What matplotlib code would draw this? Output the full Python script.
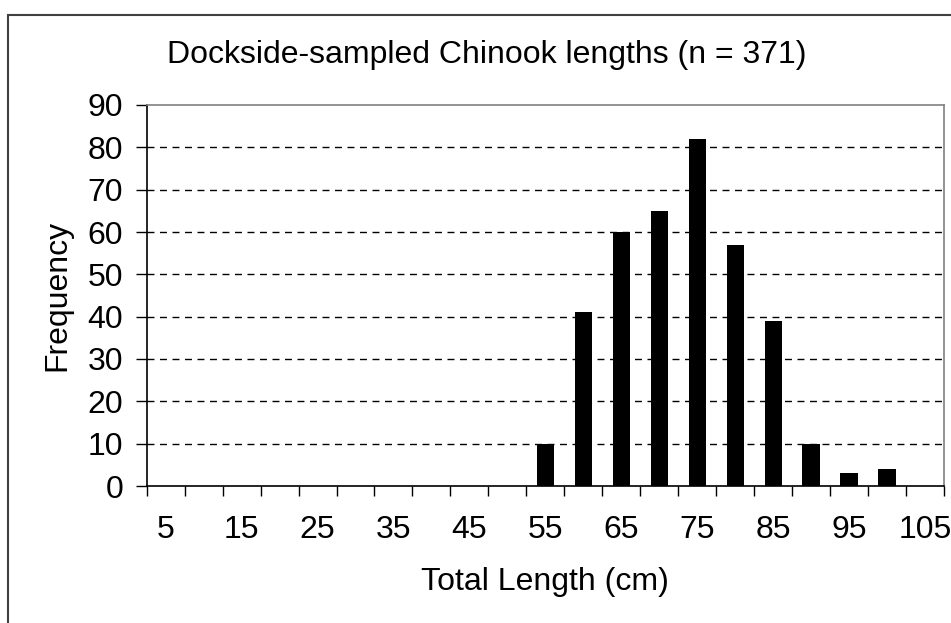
"""
Histogram of dockside-sampled Chinook lengths.
"""
import matplotlib
matplotlib.use('Agg')
import matplotlib.pyplot as plt
from matplotlib.patches import Rectangle

plt.rcParams['font.family'] = ['Liberation Sans', 'DejaVu Sans']

# Length classes (cm) and counts per class
lengths = [5, 10, 15, 20, 25, 30, 35, 40, 45, 50, 55,
           60, 65, 70, 75, 80, 85, 90, 95, 100, 105]
counts = [0, 0, 0, 0, 0, 0, 0, 0, 0, 0, 10,
          41, 60, 65, 82, 57, 39, 10, 3, 4, 0]
label_every = 2
y_ticks = [0, 10, 20, 30, 40, 50, 60, 70, 80, 90]
fs = 23

fig = plt.figure(figsize=(9.51, 6.23), dpi=100)

# Chart area border (runs off the right and bottom edge)
fig.patches.append(Rectangle((8 / 951, -0.1), 1.2, 1 - 15 / 623 + 0.1,
                             transform=fig.transFigure, fill=False,
                             edgecolor='#404040', linewidth=1.5))

ax = fig.add_axes([146.7 / 951, 1 - 486 / 623, (944 - 146.7) / 951, (486 - 105) / 623])

pos = list(range(len(lengths)))
ax.bar(pos, counts, width=0.455, color='black', zorder=3)

ax.set_xlim(-0.5, len(lengths) - 0.5)
ax.set_ylim(0, 90)

# Tick marks sit on category boundaries, labels on every other category
ax.set_xticks([p - 0.5 for p in pos] + [len(lengths) - 0.5])
ax.set_xticklabels([])
ax.set_xticks(pos[::label_every], minor=True)
ax.set_xticklabels([str(v) for v in lengths[::label_every]], minor=True)
ax.tick_params(axis='x', which='major', direction='out', length=7, width=1)
ax.tick_params(axis='x', which='minor', length=0, pad=21, labelsize=fs)

ax.set_yticks(y_ticks)
ax.tick_params(axis='y', direction='out', length=8, width=1, pad=9, labelsize=fs)

for yv in y_ticks[1:-1]:
    ax.axhline(yv, color='black', linewidth=1, linestyle=(0, (5, 4)), zorder=1)

ax.spines['top'].set_color('#808080')
ax.spines['right'].set_color('#808080')
ax.spines['left'].set_color('black')
ax.spines['bottom'].set_color('black')
for s in ax.spines.values():
    s.set_linewidth(1.2)

fig.text(487 / 951, 1 - 55 / 623, 'Dockside-sampled Chinook lengths (n = 371)',
         ha='center', va='center', fontsize=fs)
fig.text(57 / 951, 1 - 295 / 623, 'Frequency', rotation=90,
         ha='center', va='center', fontsize=fs)
fig.text(545 / 951, 1 - 582 / 623, 'Total Length (cm)',
         ha='center', va='center', fontsize=fs)

fig.savefig('out.png', dpi=100)
